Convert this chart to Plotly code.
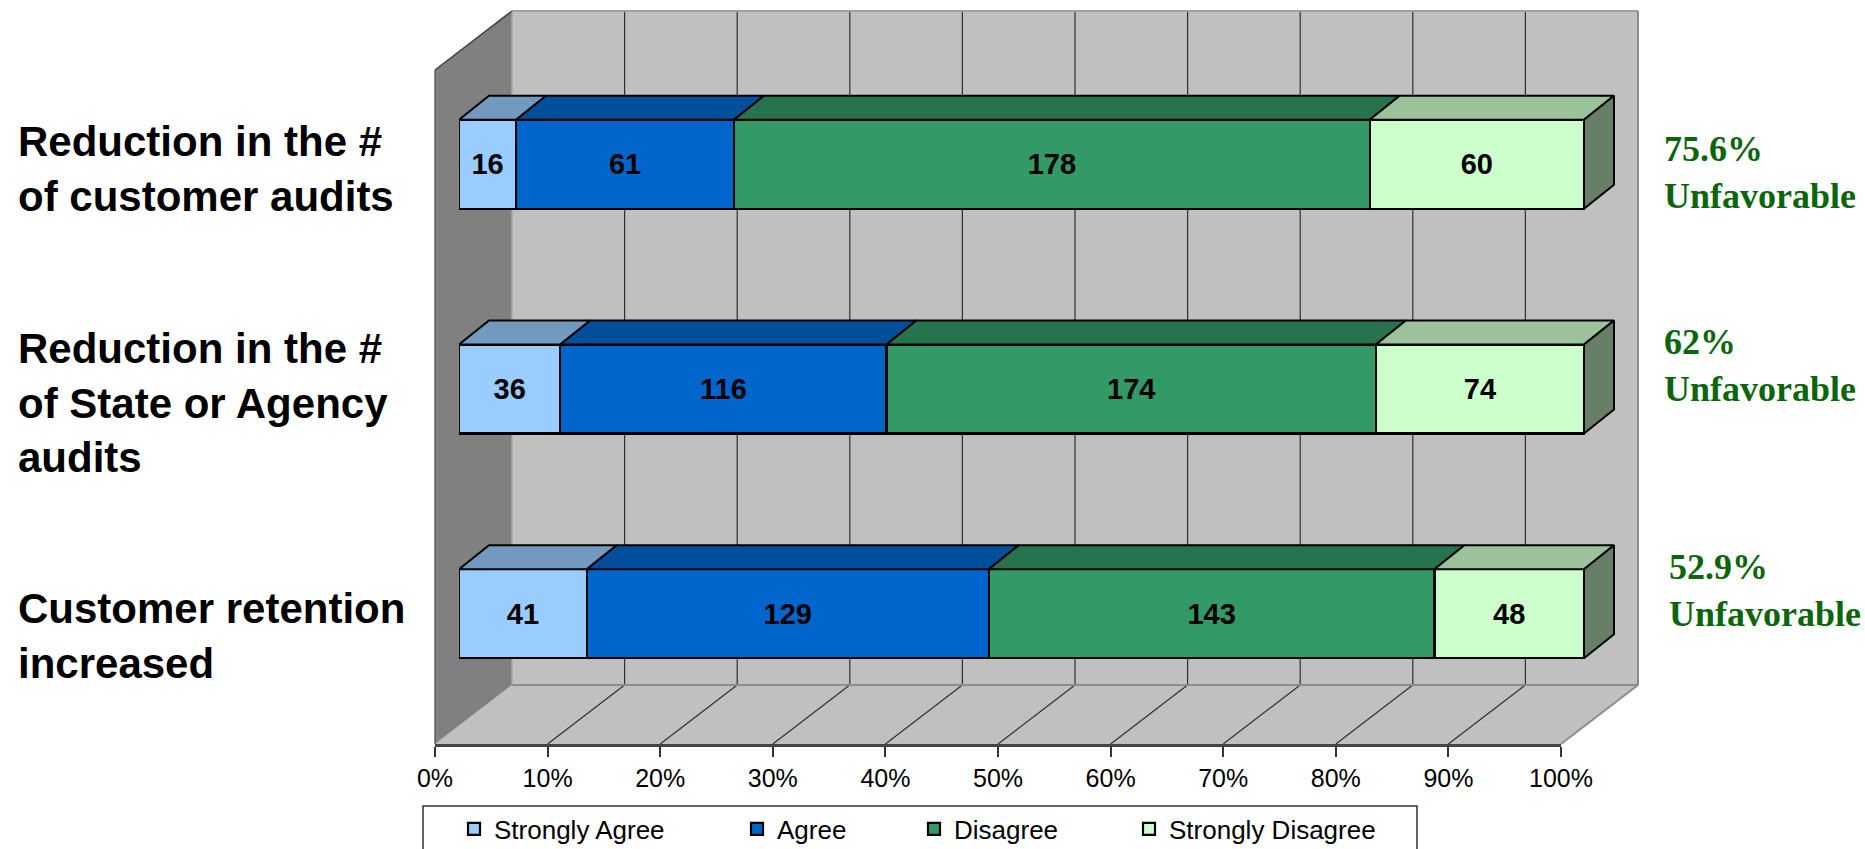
import plotly.graph_objects as go

# ---------- data ----------
categories = ["Reduction in the #<br>of customer audits",
              "Reduction in the #<br>of State or Agency<br>audits",
              "Customer retention<br>increased"]
series_names = ["Strongly Agree", "Agree", "Disagree", "Strongly Disagree"]
strongly_agree = [16, 36, 41]
agree = [61, 116, 129]
disagree = [178, 174, 143]
strongly_disagree = [60, 74, 48]
unfavorable = ["75.6%<br>Unfavorable", "62%<br>Unfavorable", "52.9%<br>Unfavorable"]
tick_values = [0, 10, 20, 30, 40, 50, 60, 70, 80, 90, 100]
tick_labels = ["0%", "10%", "20%", "30%", "40%", "50%", "60%", "70%", "80%", "90%", "100%"]

# ---------- styles ----------
front_colors = ["#99CCFF", "#0066CC", "#339966", "#CCFFCC"]
top_colors = ["#7299BF", "#004F9A", "#26734D", "#9CC29C"]
side_color = "#667F66"
W, H = 1865, 849
SANS = "Liberation Sans, Arial, sans-serif"
SERIF = "Liberation Serif, Garamond, serif"
px = lambda x: x / W
py = lambda y: 1 - y / H

# geometry of the pseudo-3D box (pixels)
FL, FR, FB, FT = 435, 1561, 744, 70      # front plane of axis
BL, BR, BB, BT = 512, 1638, 685, 11      # back wall
BAR_L, BAR_R, BAR_T, BAR_B = 459, 1584, 52, 726
PX_PER_PCT = (BAR_R - BAR_L) / 100
PX_PER_CAT = (BAR_B - BAR_T) / 3
DX = 30 / PX_PER_PCT
DY = 24 / PX_PER_CAT
BAR_W = 89 / PX_PER_CAT
EXTRA_R = 40

series_values = [strongly_agree, agree, disagree, strongly_disagree]
ypos = list(range(len(categories)))
totals = [sum(s[i] for s in series_values) for i in ypos]

fig = go.Figure()

# hidden trace so that the tick axis is drawn
fig.add_trace(go.Scatter(x=tick_values, y=[0] * len(tick_values), mode="none",
                         showlegend=False, hoverinfo="skip", xaxis="x", yaxis="y"))

# front faces
for k, (name, vals) in enumerate(zip(series_names, series_values)):
    fig.add_trace(go.Bar(
        name=name, y=ypos, x=vals, orientation="h", width=BAR_W,
        marker=dict(color=front_colors[k], line=dict(color="black", width=2.2)),
        text=vals, textposition="inside", insidetextanchor="middle",
        textangle=0, constraintext="none",
        textfont=dict(family=SANS, size=29, color="black", weight="bold"),
        xaxis="x2", yaxis="y2", legend="legend" if k == 0 else f"legend{k + 1}",
        hoverinfo="skip"))

# top faces, computed from the same values
cum = [0.0] * len(ypos)
for k, vals in enumerate(series_values):
    xs, ys = [], []
    for i in ypos:
        a = cum[i]
        b = a + vals[i] / totals[i] * 100
        t = i - BAR_W / 2
        xs += [a, a + DX, b + DX, b, a, None]
        ys += [t, t - DY, t - DY, t, t, None]
        cum[i] = b
    fig.add_trace(go.Scatter(x=xs, y=ys, mode="lines", fill="toself",
                             fillcolor=top_colors[k], line=dict(color="black", width=2),
                             showlegend=False, hoverinfo="skip", xaxis="x2", yaxis="y2"))

# right-hand faces
xs, ys = [], []
for i in ypos:
    t, b = i - BAR_W / 2, i + BAR_W / 2
    xs += [100, 100 + DX, 100 + DX, 100, 100, None]
    ys += [t, t - DY, b - DY, b, t, None]
fig.add_trace(go.Scatter(x=xs, y=ys, mode="lines", fill="toself", fillcolor=side_color,
                         line=dict(color="black", width=2),
                         showlegend=False, hoverinfo="skip", xaxis="x2", yaxis="y2"))

# ---------- box chrome ----------
def poly(points, fill, line="rgba(0,0,0,0)", width=0):
    path = "M " + " L ".join(f"{px(x)} {py(y)}" for x, y in points) + " Z"
    return dict(type="path", path=path, xref="paper", yref="paper", fillcolor=fill,
                line=dict(color=line, width=width), layer="below")

def seg(x0, y0, x1, y1, color, width):
    return dict(type="line", x0=px(x0), y0=py(y0), x1=px(x1), y1=py(y1), xref="paper", yref="paper",
                line=dict(color=color, width=width), layer="below")

shapes = [
    poly([(BL, BT), (BR, BT), (BR, BB), (BL, BB)], "#C0C0C0"),
    poly([(FL, FB), (FR, FB), (BR, BB), (BL, BB)], "#C0C0C0"),
    poly([(FL, FT), (BL, BT), (BL, BB), (FL, FB)], "#808080"),
]
for v in tick_values[1:-1]:
    wx = BL + (BR - BL) * v / 100
    fx = FL + (FR - FL) * v / 100
    shapes.append(seg(wx, BT, wx, BB, "#303030", 1.2))
    shapes.append(seg(fx, FB, wx, BB, "#303030", 1.2))
shapes += [
    seg(BL, BT, BR, BT, "#A0A0A0", 2),
    seg(BR, BT, BR, BB, "#8C8C8C", 2),
    seg(BL, BB, BR, BB, "#8C8C8C", 2),
    seg(BL, BT, BL, BB, "#A8A8A8", 1.5),
    seg(FR, FB, BR, BB, "#8C8C8C", 2),
    seg(FL, FT, BL, BT, "#404040", 1.5),
    seg(FL, FT, FL, FB, "#606060", 1.5),
    dict(type="rect", x0=px(423), x1=px(1417), y0=py(806), y1=py(860), xref="paper", yref="paper",
         line=dict(color="#333333", width=1.5), fillcolor="white", layer="below"),
]

# ---------- text ----------
cat_centers = [169, 403, 636]
fav_pos = [(1662, 172), (1662, 366), (1667, 590)]
annotations = []
for c, yc in zip(categories, cat_centers):
    annotations.append(dict(text=c, x=px(16), y=py(yc), xref="paper", yref="paper", xanchor="left",
                            yanchor="middle", align="left", showarrow=False,
                            font=dict(family=SANS, size=42, color="black", weight="bold")))
for t, (xa, ya) in zip(unfavorable, fav_pos):
    annotations.append(dict(text=t, x=px(xa), y=py(ya), xref="paper", yref="paper", xanchor="left",
                            yanchor="middle", align="left", showarrow=False,
                            font=dict(family=SERIF, size=36, color="#0B660B", weight="bold")))

def legend_at(x):
    return dict(x=px(x), y=-0.004, xanchor="left", yanchor="bottom", bgcolor="rgba(0,0,0,0)",
                borderwidth=0, font=dict(family=SANS, size=26, color="black"), itemclick=False,
                itemdoubleclick=False)

fig.update_layout(
    width=W, height=H, margin=dict(l=0, r=0, t=0, b=0, autoexpand=False), showlegend=True,
    paper_bgcolor="white", plot_bgcolor="rgba(0,0,0,0)",
    barmode="stack", barnorm="percent", hovermode=False,
    shapes=shapes, annotations=annotations,
    legend=legend_at(454), legend2=legend_at(737), legend3=legend_at(914), legend4=legend_at(1129),
    xaxis=dict(domain=[px(FL), px(FR)], range=[0, 100], tickvals=tick_values, ticktext=tick_labels,
               ticks="outside", ticklen=10, tickwidth=1.5, tickcolor="#333333", showgrid=False,
               showline=True, linecolor="#444444", linewidth=2.5, zeroline=False, anchor="y",
               automargin=False, tickfont=dict(family=SANS, size=25, color="black")),
    yaxis=dict(domain=[py(FB), py(FT)], range=[0, 1], visible=False, anchor="x", automargin=False),
    xaxis2=dict(domain=[px(BAR_L), px(BAR_R + EXTRA_R)],
                range=[0, 100 + EXTRA_R / PX_PER_PCT], visible=False, anchor="y2", automargin=False),
    yaxis2=dict(domain=[py(BAR_B), py(BAR_T)], range=[2.5, -0.5], visible=False, anchor="x2", automargin=False),
)

fig.write_html("out.html", config=dict(displayModeBar=False),
               post_script="document.body.style.margin='0';document.body.style.overflow='hidden';")
